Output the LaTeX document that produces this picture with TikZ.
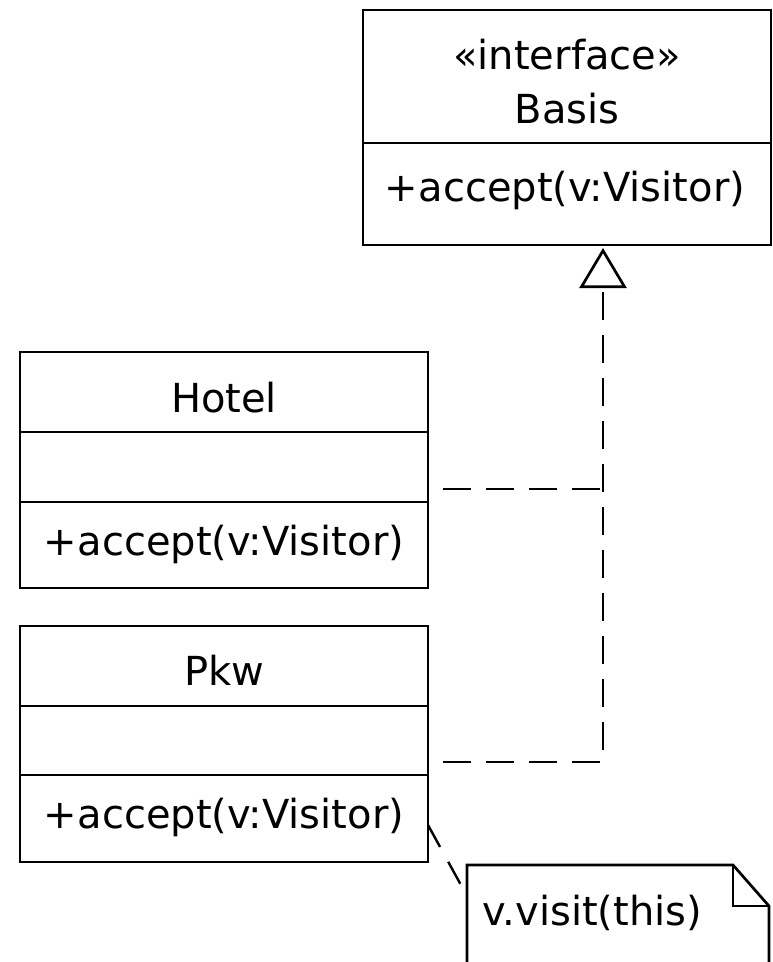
\documentclass[tikz,border=0pt]{standalone}
\usepackage{fontspec}
\setmainfont{DejaVu Sans}
\usetikzlibrary{arrows.meta}
\begin{document}
\begin{tikzpicture}[x=1pt,y=-1pt,
  comp/.style={draw,line width=2.7pt,rectangle,inner sep=0pt,minimum width=408pt},
  lbl/.style={anchor=base,inner sep=0pt,font=\fontsize{40}{48}\selectfont},
  realize/.style={line width=2.7pt,dash pattern=on 28pt off 15pt,dash phase=28pt},
  notelink/.style={line width=2.4pt,dash pattern=on 25pt off 17pt},
  opentri/.style={-{Triangle[open,length=40pt,width=47pt,line width=2.7pt]}}]
\useasboundingbox (0,0) rectangle (773,962);
\clip (0,0) rectangle (773,962);
% Basis
\node[comp,minimum height=133pt] (basisHead) at (567,76.5) {};
\node[comp,minimum height=102pt] (basisOps) at (567,194) {};
\node[lbl] (basisSt) at (567,69) {«interface»};
\node[lbl] (basisName) at (567,123) {Basis};
\node[lbl] (basisOp) at (565,201) {+accept(v:Visitor)};
% Hotel
\node[comp,minimum height=80pt] (hotelHead) at (224,392) {};
\node[comp,minimum height=70pt] (hotelAttr) at (224,467) {};
\node[comp,minimum height=86pt] (hotelOps) at (224,545) {};
\node[lbl] (hotelName) at (224,412) {Hotel};
\node[lbl] (hotelOp) at (224,555) {+accept(v:Visitor)};
% Pkw
\node[comp,minimum height=80pt] (pkwHead) at (224,666) {};
\node[comp,minimum height=69pt] (pkwAttr) at (224,740.5) {};
\node[comp,minimum height=87pt] (pkwOps) at (224,818.5) {};
\node[lbl] (pkwName) at (224,685) {Pkw};
\node[lbl] (pkwOp) at (224,828) {+accept(v:Visitor)};
% note
\draw[line width=2.7pt] (467,990) -- (467,865) -- (733,865) -- (769,906) -- (769,990);
\draw[line width=2.7pt] (733,865) -- (733,906) -- (769,906);
\node[lbl,anchor=base west] (noteText) at (482,925) {v.visit(this)};
% connector coordinates
\coordinate (tip) at (603,248);
\coordinate (hotelEnd) at (428,489);
\coordinate (pkwEnd) at (428,762);
\coordinate (pkwNoteStart) at (428,825);
\coordinate (noteIn) at (467,896);
\draw[realize] (hotelEnd) -- (hotelEnd -| tip);
\draw[realize,opentri] (pkwEnd) -| (tip);
\draw[notelink] (pkwNoteStart) -- (noteIn);
\end{tikzpicture}
\end{document}
